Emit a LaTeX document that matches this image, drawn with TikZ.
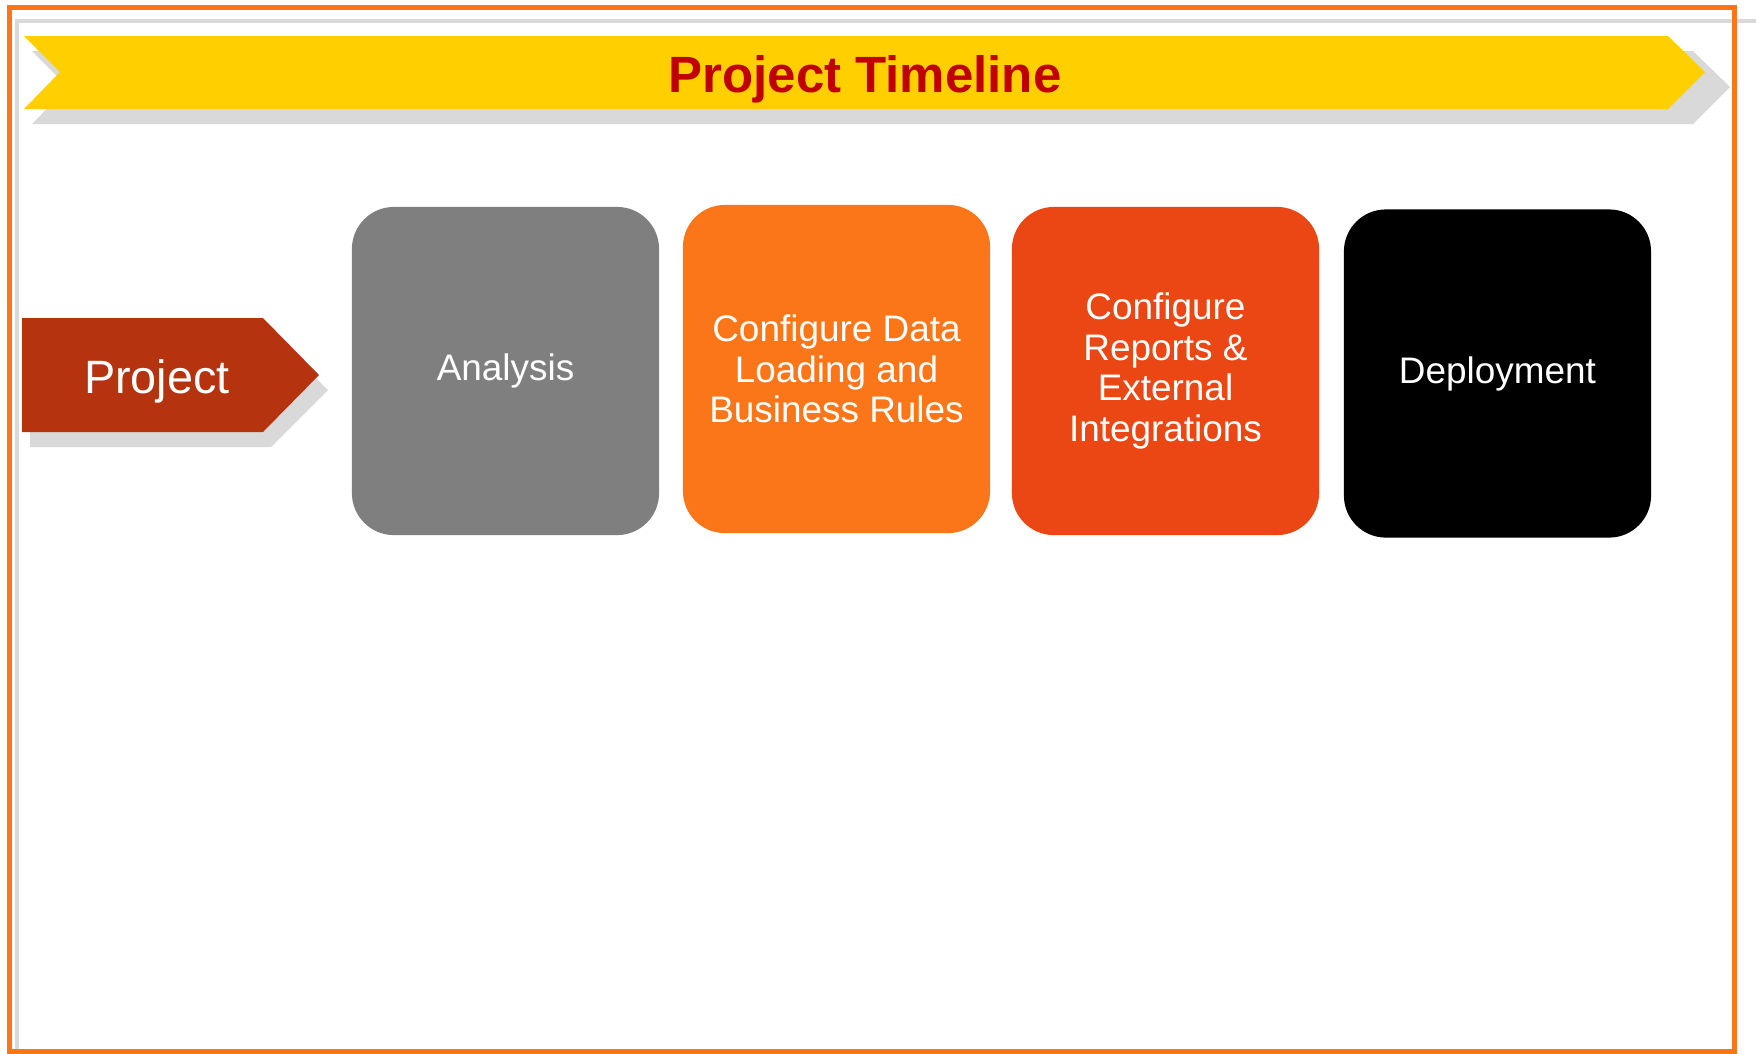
\documentclass[tikz,border=0pt]{standalone}
\usepackage{fontspec}
\setmainfont{Liberation Sans}
\usepackage{xcolor}
\usepackage{tikz}
\usetikzlibrary{positioning, calc}

\definecolor{frameorange}{HTML}{FC7518}
\definecolor{shadowgray}{HTML}{D9D9D9}
\definecolor{banneryellow}{HTML}{FFCF00}
\definecolor{titlered}{HTML}{C00000}
\definecolor{projectrust}{HTML}{B5340F}
\definecolor{phasegray}{HTML}{7F7F7F}
\definecolor{phaseorange}{HTML}{FB7519}
\definecolor{phasered}{HTML}{EB4714}

\begin{document}
\begin{tikzpicture}[x=0.01cm, y=-0.01cm,
    phase/.style={rounded corners=0.42cm, minimum width=3.07cm, minimum height=3.28cm,
      inner sep=0pt, text=white, align=center, font=\fontsize{10.5}{11.5}\selectfont}]
    \useasboundingbox (0,0) rectangle (1756,1053);

    % Frame
    \draw[shadowgray, line width=0.04cm] (1760,21) -- (17,21) -- (17,1075);
    \draw[frameorange, line width=0.05cm] (9.5,7.5) rectangle (1734.5,1051);

    % Title banner
    \fill[shadowgray] (32,51) -- (1693,51) -- (1730,87) -- (1693,124) -- (32,124) -- (68,87) -- cycle;
    \fill[banneryellow] (24,36) -- (1668,36) -- (1705,72) -- (1668,109) -- (24,109) -- (60,72) -- cycle;
    \node[anchor=base, text=titlered, font=\fontsize{14.5}{17}\selectfont\bfseries] (title) at (865,92) {Project Timeline};

    % Project arrow
    \fill[shadowgray] (30,333) -- (271,333) -- (328,390) -- (271,447) -- (30,447) -- cycle;
    \fill[projectrust] (22,318) -- (263,318) -- (319,375) -- (263,432) -- (22,432) -- cycle;
    \node[anchor=base, text=white, font=\fontsize{13.3}{16}\selectfont] (project) at (157,393) {Project};

    % Phases
    \node[phase, fill=phasegray] (analysis) at (505.5,371) {Analysis};
    \node[phase, fill=phaseorange] (loading) at (836.5,369) {Configure Data\\Loading and\\Business Rules};
    \node[phase, fill=phasered] (reports) at (1165.5,371) {Configure\\Reports \&\\External\\Integrations};
    \node[phase, fill=black] (deploy) at (1497.5,373.5) {Deployment};
\end{tikzpicture}
\end{document}
